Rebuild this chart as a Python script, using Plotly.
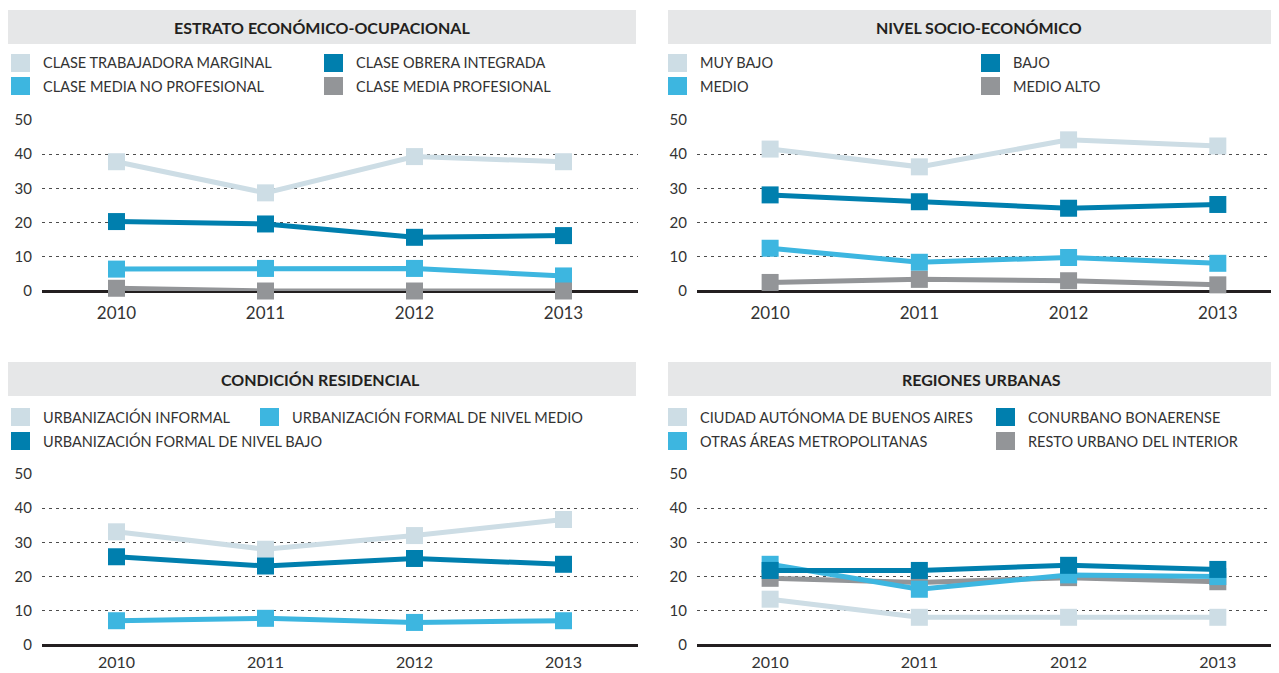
import plotly.graph_objects as go

# data
years = ['2010', '2011', '2012', '2013']

# ESTRATO ECONÓMICO-OCUPACIONAL
marginal = [37.8, 28.7, 39.3, 37.8]
obrera = [20.3, 19.6, 15.7, 16.2]
media_no_prof = [6.4, 6.6, 6.6, 4.4]
media_prof = [0.8, 0.0, 0.0, 0.0]

# NIVEL SOCIO-ECONÓMICO
muy_bajo = [41.5, 36.3, 44.2, 42.4]
bajo = [28.1, 26.1, 24.2, 25.3]
medio = [12.5, 8.4, 9.8, 8.1]
medio_alto = [2.5, 3.4, 3.0, 1.8]

# CONDICIÓN RESIDENCIAL
informal = [33.1, 28.0, 32.0, 36.7]
formal_medio = [7.1, 7.8, 6.6, 7.1]
formal_bajo = [25.8, 23.1, 25.3, 23.6]

# REGIONES URBANAS
caba = [13.4, 8.1, 8.1, 8.1]
conurbano = [21.8, 21.8, 23.3, 22.1]
otras = [23.6, 16.3, 20.5, 20.0]
resto = [19.5, 18.3, 19.7, 18.5]

yticks = [0, 10, 20, 30, 40, 50]

PALE = '#cddde5'
DARK = '#007fae'
LIGHT = '#3db6e0'
GRAY = '#939598'
TXT = '#333333'
FONT = 'Lato'

# the page body has an 8px margin, so lay out in window pixels minus 8
OFF = 8
W, H = 1279 - OFF, 673 - OFF


def px(x):
    return (x - OFF) / W


def py(y):
    return 1 - (y - OFF) / H


# panels: title, title bar box, title centre, plot box, x range,
# series (drawing order), legend entries (label, colour, col, row)
panels = [
    dict(
        title='ESTRATO ECONÓMICO-OCUPACIONAL',
        bar=(8, 636, 10, 44), tx=322,
        plot=(42, 638, 120, 291), xr=[-0.5, 3.5],
        series=[('CLASE TRABAJADORA MARGINAL', marginal, PALE),
                ('CLASE OBRERA INTEGRADA', obrera, DARK),
                ('CLASE MEDIA NO PROFESIONAL', media_no_prof, LIGHT),
                ('CLASE MEDIA PROFESIONAL', media_prof, GRAY)],
        legend=[('CLASE TRABAJADORA MARGINAL', PALE, 11, 63),
                ('CLASE OBRERA INTEGRADA', DARK, 324, 63),
                ('CLASE MEDIA NO PROFESIONAL', LIGHT, 11, 86),
                ('CLASE MEDIA PROFESIONAL', GRAY, 324, 86)],
    ),
    dict(
        title='NIVEL SOCIO-ECONÓMICO',
        bar=(668, 1279, 10, 44), tx=979,
        plot=(697, 1279, 120, 291), xr=[-0.49, 3.41],
        series=[('MUY BAJO', muy_bajo, PALE),
                ('BAJO', bajo, DARK),
                ('MEDIO', medio, LIGHT),
                ('MEDIO ALTO', medio_alto, GRAY)],
        legend=[('MUY BAJO', PALE, 668, 63),
                ('BAJO', DARK, 981, 63),
                ('MEDIO', LIGHT, 668, 86),
                ('MEDIO ALTO', GRAY, 981, 86)],
    ),
    dict(
        title='CONDICIÓN RESIDENCIAL',
        bar=(8, 636, 362, 396), tx=320,
        plot=(42, 638, 474, 645), xr=[-0.5, 3.5],
        series=[('URBANIZACIÓN INFORMAL', informal, PALE),
                ('URBANIZACIÓN FORMAL DE NIVEL MEDIO', formal_medio, LIGHT),
                ('URBANIZACIÓN FORMAL DE NIVEL BAJO', formal_bajo, DARK)],
        legend=[('URBANIZACIÓN INFORMAL', PALE, 11, 417),
                ('URBANIZACIÓN FORMAL DE NIVEL MEDIO', LIGHT, 260, 417),
                ('URBANIZACIÓN FORMAL DE NIVEL BAJO', DARK, 11, 441)],
    ),
    dict(
        title='REGIONES URBANAS',
        bar=(668, 1279, 362, 396), tx=981,
        plot=(697, 1279, 474, 645), xr=[-0.49, 3.41],
        series=[('CIUDAD AUTÓNOMA DE BUENOS AIRES', caba, PALE),
                ('RESTO URBANO DEL INTERIOR', resto, GRAY),
                ('OTRAS ÁREAS METROPOLITANAS', otras, LIGHT),
                ('CONURBANO BONAERENSE', conurbano, DARK)],
        legend=[('CIUDAD AUTÓNOMA DE BUENOS AIRES', PALE, 668, 417),
                ('CONURBANO BONAERENSE', DARK, 996, 417),
                ('OTRAS ÁREAS METROPOLITANAS', LIGHT, 668, 441),
                ('RESTO URBANO DEL INTERIOR', GRAY, 996, 441)],
    ),
]

fig = go.Figure()
shapes = []
annotations = []

for i, p in enumerate(panels, start=1):
    sfx = '' if i == 1 else str(i)
    xa, ya = 'x' + sfx, 'y' + sfx
    bottom_row = i > 2

    for name, vals, col in p['series']:
        fig.add_trace(go.Scatter(
            x=years, y=vals, name=name, xaxis=xa, yaxis=ya,
            mode='lines+markers', cliponaxis=False, showlegend=False,
            line=dict(color=col, width=5),
            marker=dict(symbol='square', size=17, color=col),
        ))

    x0, x1, y0, y1 = p['plot']
    fig.layout['xaxis' + sfx] = dict(
        domain=[max(px(x0), 0), min(px(x1), 1)], range=p['xr'], anchor=ya,
        type='category', showgrid=False, zeroline=False, showline=False,
        ticks='', ticklabelstandoff=6 if bottom_row else 10,
        fixedrange=True, automargin=False,
        tickfont=dict(family=FONT, size=16 if bottom_row else 17, color=TXT),
    )
    fig.layout['yaxis' + sfx] = dict(
        domain=[py(y1), py(y0)], range=[0, 50], anchor=xa,
        tickvals=yticks, showgrid=True, gridcolor='#4d4d4d', gridwidth=1,
        griddash='3px,4px', zeroline=True, zerolinecolor='#231f20',
        zerolinewidth=3, showline=False, ticks='', ticklabelstandoff=9,
        fixedrange=True, automargin=False,
        tickfont=dict(family=FONT, size=15, color=TXT),
    )

    # grey title band
    bx0, bx1, by0, by1 = p['bar']
    shapes.append(dict(type='rect', xref='paper', yref='paper',
                       x0=max(px(bx0), 0), x1=min(px(bx1), 1),
                       y0=py(by1), y1=py(by0),
                       fillcolor='#e6e7e8', line=dict(width=0), layer='below'))
    annotations.append(dict(
        text='<b>' + p['title'] + '</b>', xref='paper', yref='paper',
        x=px(p['tx']), y=py((by0 + by1) / 2), xanchor='center', yanchor='middle',
        showarrow=False, font=dict(family=FONT, size=16, color='#231f20'),
    ))

    # legend: coloured squares with labels
    for label, col, lx, ly in p['legend']:
        shapes.append(dict(type='rect', xref='paper', yref='paper',
                           x0=px(lx), x1=px(lx + 19), y0=py(ly + 9), y1=py(ly - 9),
                           fillcolor=col, line=dict(width=0)))
        annotations.append(dict(
            text=label, xref='paper', yref='paper',
            x=px(lx + 30), y=py(ly), xanchor='left', yanchor='middle',
            showarrow=False, font=dict(family=FONT, size=14.5, color=TXT),
        ))

# extra bottom margin so the lower year labels are not clipped by the svg
fig.update_layout(
    width=W, height=H + OFF,
    margin=dict(l=0, r=0, t=0, b=OFF, autoexpand=False),
    paper_bgcolor='white', plot_bgcolor='white',
    showlegend=False,
    shapes=shapes, annotations=annotations,
    font=dict(family=FONT, color=TXT),
)

fig.write_html('out.html')
